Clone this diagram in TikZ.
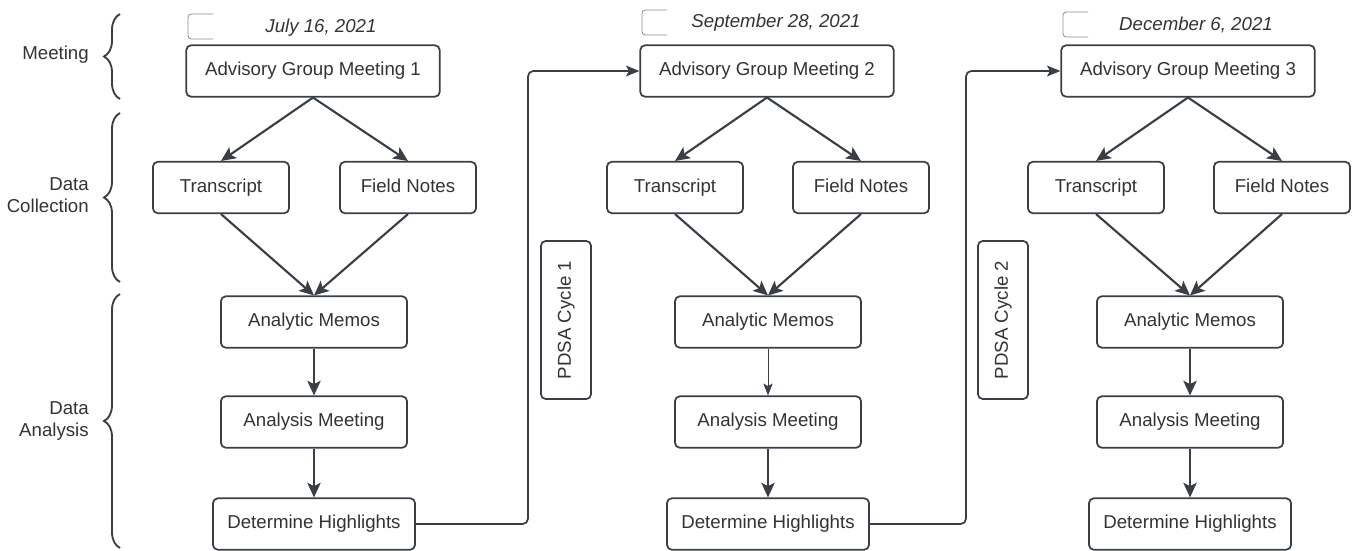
\documentclass[tikz,border=0pt]{standalone}
\usepackage{fontspec}
\setmainfont{Liberation Sans}
\usetikzlibrary{arrows.meta,decorations.pathreplacing}
\definecolor{ln}{HTML}{3A3F46}
\definecolor{tx}{HTML}{333333}
\definecolor{brk}{HTML}{8A8D91}
\begin{document}
\begin{tikzpicture}[x=0.75pt,y=-0.75pt,
  txtfont/.style={font=\fontsize{14}{16.5}\selectfont},
  box/.style={draw=ln,line width=1.3pt,rounded corners=3.5pt,fill=white,text=tx,txtfont,minimum height=38.5pt,inner sep=0pt,text height=10pt,text depth=2.8pt},
  agm/.style={box,minimum width=190pt},
  small/.style={box,minimum width=102pt},
  mid/.style={box,minimum width=139.5pt},
  hl/.style={box,minimum width=151.5pt},
  pdsa/.style={box,rotate=90,minimum width=118.5pt,minimum height=37.5pt},
  datelbl/.style={text=tx,txtfont,font=\fontsize{14}{16.5}\selectfont\itshape,inner sep=0pt},
  sidelbl/.style={text=tx,txtfont,align=right,anchor=east,inner sep=0pt},
  arr/.style={draw=ln,line width=1.6pt,-{Stealth[length=11pt,width=10pt,inset=2.5pt]}},
  thinarr/.style={draw=ln,line width=0.6pt,-{Stealth[length=9pt,width=7pt,inset=2pt]}},
  conn/.style={draw=ln,line width=1.3pt,rounded corners=4pt,-{Stealth[length=10pt,width=8pt,inset=2pt]}},
  brace/.style={draw=ln,line width=1.4pt,decorate,decoration={brace,amplitude=12pt}},
  bracket/.style={draw=brk,line width=0.6pt,rounded corners=2.5pt}
]
\useasboundingbox (0,0) rectangle (1352,550);

% side labels and braces
\node[sidelbl] (lmeet) at (89,55) {Meeting};
\node[sidelbl] (lcoll) at (89,195) {Data\\Collection};
\node[sidelbl] (lana) at (89,421) {Data\\Analysis};
\draw[brace] (120,99) -- (120,14);
\draw[brace] (120,282) -- (120,113);
\draw[brace] (120,548) -- (120,294);

% column 1
\draw[bracket] (213,14) -- (188,14) -- (188,39) -- (213,39);
\node[datelbl] (d1) at (321,28) {July 16, 2021};
\node[agm] (a1) at (313,71) {Advisory Group Meeting 1};
\node[small] (t1) at (221,187.5) {Transcript};
\node[small] (f1) at (408,187.5) {Field Notes};
\node[mid] (m1) at (314,322) {Analytic Memos};
\node[mid] (n1) at (314,422) {Analysis Meeting};
\node[hl] (h1) at (314,524) {Determine Highlights};
\draw[arr] (a1.south) -- (t1.north);
\draw[arr] (a1.south) -- (f1.north);
\draw[arr] (t1.south) -- (m1.north);
\draw[arr] (f1.south) -- (m1.north);
\draw[arr] (m1.south) -- (n1.north);
\draw[arr] (n1.south) -- (h1.north);

% PDSA 1
\node[pdsa] (p1) at (566,320) {PDSA Cycle 1};
\coordinate (c1) at (528,71);

% column 2
\draw[bracket] (667,10) -- (642,10) -- (642,35) -- (667,35);
\node[datelbl] (d2) at (776,23) {September 28, 2021};
\node[agm] (a2) at (767,71) {Advisory Group Meeting 2};
\node[small] (t2) at (675,187.5) {Transcript};
\node[small] (f2) at (861,187.5) {Field Notes};
\node[mid] (m2) at (768,322) {Analytic Memos};
\node[mid] (n2) at (768,422) {Analysis Meeting};
\node[hl] (h2) at (768,524) {Determine Highlights};
\draw[arr] (a2.south) -- (t2.north);
\draw[arr] (a2.south) -- (f2.north);
\draw[arr] (t2.south) -- (m2.north);
\draw[arr] (f2.south) -- (m2.north);
\draw[thinarr] (m2.south) -- (n2.north);
\draw[arr] (n2.south) -- (h2.north);
\draw[conn] (h1.east) -| (c1) -- (a2.west);

% PDSA 2
\node[pdsa] (p2) at (1003,320) {PDSA Cycle 2};
\coordinate (c2) at (966,71);

% column 3
\draw[bracket] (1088,12) -- (1063,12) -- (1063,37) -- (1088,37);
\node[datelbl] (d3) at (1196,25) {December 6, 2021};
\node[agm] (a3) at (1188,71) {Advisory Group Meeting 3};
\node[small] (t3) at (1096,187.5) {Transcript};
\node[small] (f3) at (1282,187.5) {Field Notes};
\node[mid] (m3) at (1190,322) {Analytic Memos};
\node[mid] (n3) at (1190,422) {Analysis Meeting};
\node[hl] (h3) at (1190,524) {Determine Highlights};
\draw[arr] (a3.south) -- (t3.north);
\draw[arr] (a3.south) -- (f3.north);
\draw[arr] (t3.south) -- (m3.north);
\draw[arr] (f3.south) -- (m3.north);
\draw[arr] (m3.south) -- (n3.north);
\draw[arr] (n3.south) -- (h3.north);
\draw[conn] (h2.east) -| (c2) -- (a3.west);
\end{tikzpicture}
\end{document}
